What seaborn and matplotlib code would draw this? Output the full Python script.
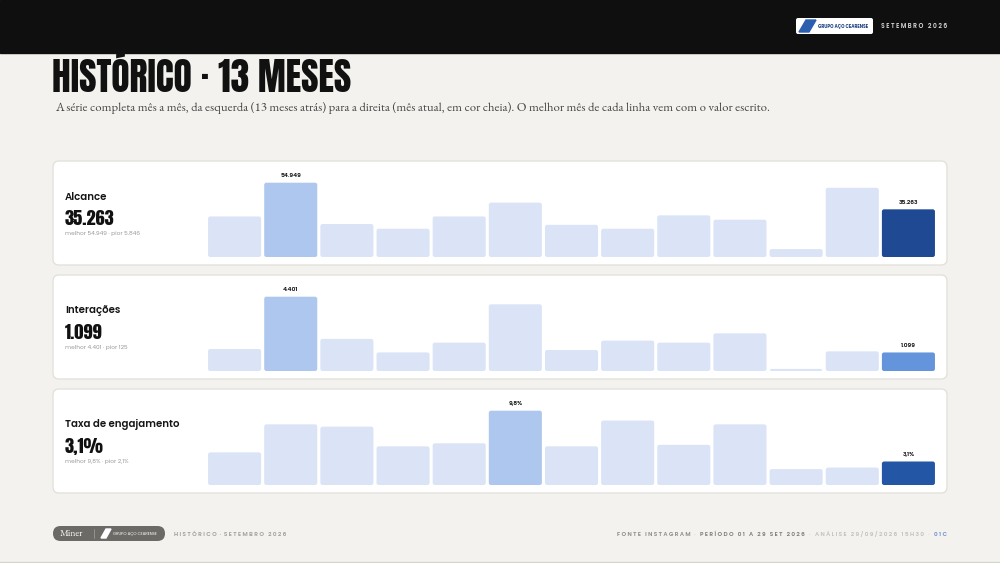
import matplotlib.pyplot as plt
import seaborn as sns
import pandas as pd
from matplotlib.patches import FancyBboxPatch, Rectangle, Polygon

# 13 months, oldest -> current
meses = ['set/25', 'out/25', 'nov/25', 'dez/25', 'jan/26', 'fev/26', 'mar/26',
         'abr/26', 'mai/26', 'jun/26', 'jul/26', 'ago/26', 'set/26']
alcance = [30000, 54949, 24400, 20900, 30000, 40200, 23800, 20900, 30800, 27600, 5846, 51200, 35263]
interacoes = [1300, 4401, 1900, 1100, 1680, 3950, 1245, 1800, 1680, 2230, 125, 1165, 1099]
engajamento = [4.3, 8.0, 7.7, 5.1, 5.5, 9.8, 5.1, 8.5, 5.3, 8.0, 2.1, 2.3, 3.1]

metricas = ['Alcance', 'Interações', 'Taxa de engajamento']
series = [alcance, interacoes, engajamento]
cor_atual = ['#1f4a93', '#6495dc', '#2456a6']

BG = '#f3f2ee'
LIGHT = '#dae4f6'
BEST = '#aec7ef'

ANTON = ['Anton', 'DejaVu Sans']
POP = ['Poppins', 'DejaVu Sans']
SERIF = ['EB Garamond', 'Liberation Serif']


def fmt(v, pct=False):
    if pct:
        return f'{v:.1f}'.replace('.', ',') + '%'
    return f'{int(round(v)):,}'.replace(',', '.')


sns.set_theme(style='white')
plt.rcParams['font.family'] = ['DejaVu Sans']

fig = plt.figure(figsize=(10, 5.63), dpi=100)
fig.patch.set_facecolor(BG)

# background axes in pixel units
bg = fig.add_axes([0, 0, 1, 1])
bg.set_xlim(0, 1000)
bg.set_ylim(563, 0)
bg.axis('off')
bg.set_facecolor(BG)

# header band
bg.add_patch(Rectangle((0, 0), 1000, 53, color='#0f0f0f', zorder=1))
bg.add_patch(FancyBboxPatch((796, 18), 77, 16, boxstyle='round,pad=0,rounding_size=2',
                            fc='white', ec='none', zorder=2))
bg.add_patch(Polygon([(799, 32), (806, 20), (816, 20), (809, 32)], color='#2a5fb0', zorder=3))
bg.text(818, 26.5, 'GRUPO AÇO CEARENSE', fontsize=3.2, color='#1c3f80', va='center',
        family=POP, fontweight='bold', zorder=3)
bg.text(947, 26.5, 'S E T E M B R O   2 0 2 6', fontsize=4.4, color='#d8d8d8', va='center', ha='right',
        family=POP, fontweight='semibold', zorder=3)

# title + subtitle
bg.text(52, 92, 'HISTÓRICO · 13 MESES', fontsize=27, color='#111111',
        family=ANTON, va='baseline')
bg.text(55, 108, 'A série completa mês a mês, da esquerda (13 meses atrás) para a direita (mês atual, em cor cheia). '
        'O melhor mês de cada linha vem com o valor escrito.', fontsize=9.1, color='#444444',
        family=SERIF, va='center')

card_top = [161, 275, 389]
for i, (nome, vals) in enumerate(zip(metricas, series)):
    top = card_top[i]
    pct = i == 2
    bg.add_patch(FancyBboxPatch((53, top), 894, 104, boxstyle='round,pad=0,rounding_size=6',
                                fc='white', ec='#e2dfd8', lw=0.9, zorder=1))
    imax = vals.index(max(vals))
    imin = vals.index(min(vals))
    bg.text(65, top + 36, nome, fontsize=7.3, fontweight='semibold', color='#151515', family=POP, va='center')
    bg.text(64.5, top + 64, fmt(vals[-1], pct), fontsize=13.2, color='#111111',
            family=ANTON, va='baseline')
    bg.text(65, top + 72, f'melhor {fmt(vals[imax], pct)} · pior {fmt(vals[imin], pct)}',
            fontsize=4.2, color='#9a9a9a', family=POP, va='center')

    # bar chart
    base = top + 96
    ax = fig.add_axes([206.5 / 1000, 1 - base / 563, 730 / 1000, 90 / 563])
    cores = [LIGHT] * 13
    cores[imax] = BEST
    cores[-1] = cor_atual[i]
    df = pd.DataFrame({'mes': meses, 'valor': vals})
    sns.barplot(data=df, x='mes', y='valor', hue='mes', palette=cores, legend=False,
                width=0.945, saturation=1, ax=ax)
    ymax = max(vals) * 90 / 74.3
    ax.set_xlim(-0.5, 12.5)
    ax.set_ylim(0, ymax)
    ax.axis('off')
    ax.patch.set_alpha(0)
    # swap the plain rectangles for slightly rounded ones
    xpx = 13 / 730
    asp = (ymax / 90) / xpx
    for p in list(ax.patches):
        x0, y0 = p.get_x(), p.get_y()
        w, h = p.get_width(), p.get_height()
        fc = p.get_facecolor()
        p.remove()
        ax.add_patch(FancyBboxPatch((x0, y0), w, h, boxstyle=f'round,pad=0,rounding_size={2.2 * xpx}',
                                    mutation_aspect=asp, fc=fc, ec='none'))
    for j in (imax, 12):
        ax.text(j, vals[j] + max(vals) * 0.06, fmt(vals[j], pct), ha='center', va='bottom',
                fontsize=4.3, fontweight='semibold', color='#111111', family=POP)

# footer
bg.add_patch(FancyBboxPatch((53, 526), 112, 15, boxstyle='round,pad=0,rounding_size=7.5',
                            fc='#6b6a66', ec='none', zorder=2))
bg.text(60, 534, 'Miner', fontsize=7, color='white', family=SERIF, va='center', zorder=3)
bg.plot([94, 94], [529, 538], color='#9a9994', lw=0.6, zorder=3)
bg.add_patch(Polygon([(101, 538), (106, 529), (111, 529), (106, 538)], color='white', zorder=3))
bg.text(113, 534, 'GRUPO AÇO CEARENSE', fontsize=2.9, color='white', family=POP, va='center', zorder=3)
bg.text(174, 534, 'H I S T Ó R I C O  ·  S E T E M B R O   2 0 2 6', fontsize=4.2, color='#a09f9b',
        family=POP, fontweight='semibold', va='center')

footer = [('F O N T E   I N S T A G R A M', '#8c8b87'), ('   ·   ', '#cfcdc8'),
          ('P E R Í O D O   0 1   A   2 9   S E T   2 0 2 6', '#7d7c78'), ('   ·   ', '#cfcdc8'),
          ('A N Á L I S E   2 9 / 0 9 / 2 0 2 6   1 5 H 3 0', '#c3c1bc'), ('   ·   ', '#cfcdc8'),
          ('0 1 C', '#6f93d3')]
fig.canvas.draw()
r = fig.canvas.get_renderer()
x = 947
for txt, c in reversed(footer):
    t = bg.text(x, 534, txt, fontsize=4.2, color=c, family=POP, fontweight='semibold', va='center', ha='right')
    x -= t.get_window_extent(renderer=r).width
bg.plot([0, 1000], [562, 562], color='#d6d4cf', lw=1)

fig.savefig('out.png', dpi=100, facecolor=BG)
